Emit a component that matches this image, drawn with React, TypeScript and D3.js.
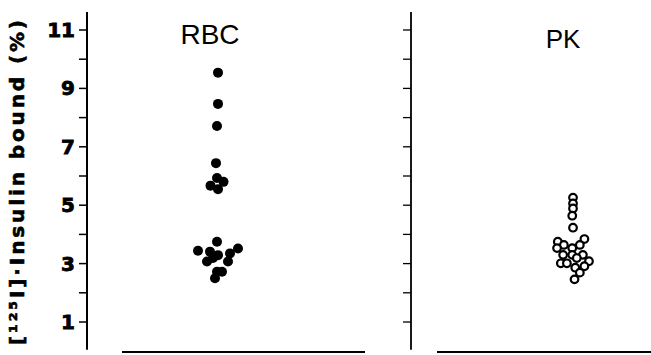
import * as d3 from 'd3';

const groups = ['RBC', 'PK'];

// value (%), lateral offset in marker diameters
const rbcValues = [9.54, 8.47, 7.71, 6.44, 5.93, 5.67, 5.8, 5.55, 3.75, 3.44, 3.52, 3.41, 3.35, 3.29, 3.19, 3.07, 3.07, 2.72, 2.72, 2.5];
const rbcOffsets = [0.1, 0.1, 0, -0.1, 0, -0.65, 0.65, 0.1, 0, -1.9, 2.1, -0.7, 1.3, 0.1, -0.4, -1.0, 1.1, 0, 0.5, -0.2];

const pkValues = [5.26, 5.06, 4.89, 4.64, 4.23, 3.75, 3.84, 3.64, 3.64, 3.53, 3.53, 3.3, 3.3, 3.3, 3.01, 3.01, 3.19, 3.08, 2.91, 2.86, 2.69, 2.46];
const pkOffsets = [0, 0, 0, -0.1, 0, -2.0, 1.5, -1.2, 0.9, -2.1, -0.1, 1.3, -1.3, -0.1, -1.6, -0.8, 0.5, 2.1, 1.5, 0.3, 0.9, 0.2];

const tickValues = [1, 2, 3, 4, 5, 6, 7, 8, 9, 10, 11];
const labelledTicks = [1, 3, 5, 7, 9, 11];

export default function App() {
  const width = 651;
  const height = 355;

  const y = d3.scaleLinear().domain([1, 11]).range([322, 30]);
  const yTop = y(11.62);
  const yBottom = y(0.05);
  const x = d3.scalePoint().domain(groups).range([217, 573]);

  const leftAxisX = 87;
  const rightAxisX = 411;
  const tickLen = 8;

  const rbcR = 5;
  const pkR = 3.8;

  const rbc = rbcValues.map((v, i) => ({ cx: x('RBC')! + rbcOffsets[i] * rbcR * 2, cy: y(v) }));
  const pk = pkValues.map((v, i) => ({ cx: x('PK')! + pkOffsets[i] * (pkR * 2), cy: y(v) }));

  return (
    <div style={{ position: 'absolute', left: 0, top: 0 }}>
      <svg width={width} height={height} style={{ display: 'block', background: '#fff' }}>
        {/* y axis title */}
        <text
          transform={`translate(17, ${(345 + 20) / 2}) rotate(-90)`}
          textAnchor="middle"
          dominantBaseline="central"
          fontFamily="DejaVu Sans"
          fontWeight="bold"
          fontSize={20}
          textLength={325}
          lengthAdjust="spacing"
          stroke="#000"
          strokeWidth={0.6}
          fill="#000"
        >
          [¹²⁵I]·Insulin bound (%)
        </text>

        {/* left axis */}
        <line x1={leftAxisX} x2={leftAxisX} y1={yTop} y2={yBottom} stroke="#000" strokeWidth={2} />
        {tickValues.map((t) => (
          <line key={`l${t}`} x1={leftAxisX - tickLen} x2={leftAxisX} y1={y(t)} y2={y(t)} stroke="#000" strokeWidth={1.5} />
        ))}
        {labelledTicks.map((t) => (
          <text
            key={`lt${t}`}
            x={leftAxisX - 12}
            y={y(t)}
            textAnchor="end"
            dominantBaseline="central"
            fontFamily="DejaVu Sans"
            fontWeight="bold"
            fontSize={20}
            stroke="#000"
            strokeWidth={0.8}
            fill="#000"
          >
            {t}
          </text>
        ))}

        {/* right axis */}
        <line x1={rightAxisX} x2={rightAxisX} y1={yTop} y2={yBottom} stroke="#000" strokeWidth={1.8} />
        {tickValues.map((t) => (
          <line key={`r${t}`} x1={rightAxisX - tickLen} x2={rightAxisX} y1={y(t)} y2={y(t)} stroke="#000" strokeWidth={1.3} />
        ))}

        {/* baselines */}
        <line x1={122} x2={365} y1={352} y2={352} stroke="#000" strokeWidth={2.2} />
        <line x1={437} x2={651} y1={352} y2={352} stroke="#000" strokeWidth={2.2} />

        {/* titles */}
        <text x={210} y={44} textAnchor="middle" fontFamily="Liberation Sans" fontSize={28} fill="#000">
          RBC
        </text>
        <text x={563} y={48} textAnchor="middle" fontFamily="Liberation Sans" fontSize={26} fill="#000">
          PK
        </text>

        {/* RBC points */}
        {rbc.map((p, i) => (
          <circle key={`rbc${i}`} cx={p.cx} cy={p.cy} r={rbcR} fill="#000" />
        ))}

        {/* PK points */}
        {pk.map((p, i) => (
          <circle key={`pk${i}`} cx={p.cx} cy={p.cy} r={pkR} fill="#fff" stroke="#000" strokeWidth={2.2} />
        ))}
      </svg>
    </div>
  );
}
